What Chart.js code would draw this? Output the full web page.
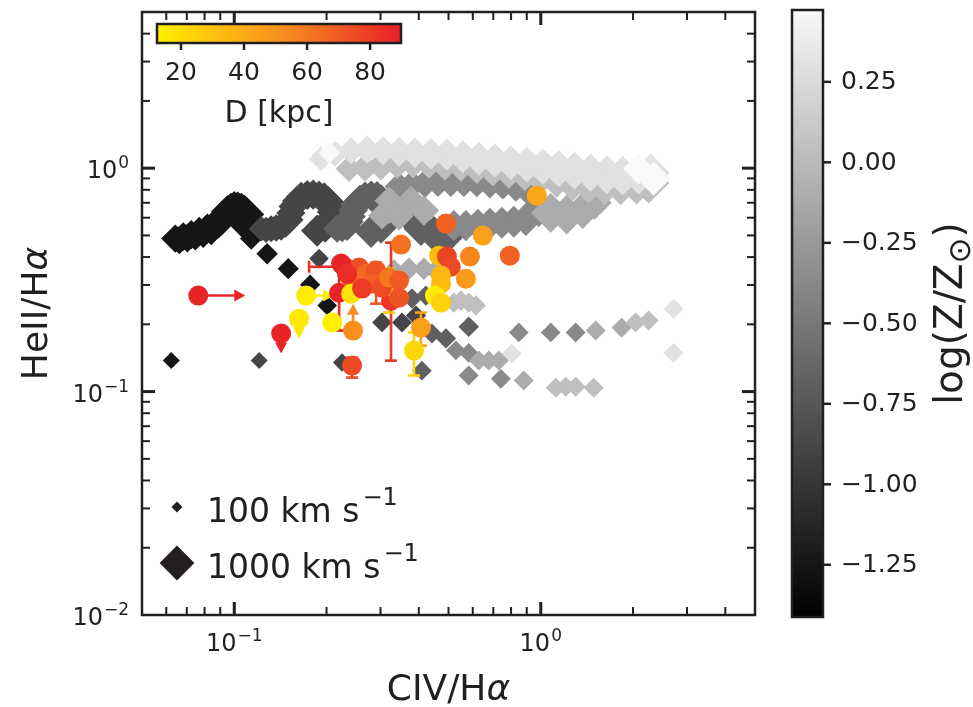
<!DOCTYPE html>
<html>
<head>
<meta charset="utf-8">
<script src="https://cdn.jsdelivr.net/npm/chart.js@4.4.1/dist/chart.umd.min.js"></script>
<style>
  html, body { margin: 0; background: #fff; }
  canvas { display: block; }
</style>
</head>
<body>
<canvas id="chart" width="973" height="707"></canvas>
<script>
/* ── Shock model grids: [CIV/Hα, HeII/Hα, v_shock (km/s)] ── */
const Z_VALUES = [-1.25, -0.9, -0.7, -0.4, -0.15, 0.0, 0.25, 0.42];

const modelZm125 = [
  [0.0623,0.1377,120],[0.201,0.243,160],[0.1768,0.301,170],[0.150,0.355,185],[0.128,0.414,190],[0.1136,0.484,210],
  [0.0642,0.484,330],[0.0662,0.476,330],[0.0682,0.494,340],[0.0703,0.486,340],[0.0724,0.504,350],[0.0746,0.497,350],
  [0.0769,0.520,360],[0.0792,0.512,370],[0.0817,0.536,380],[0.0841,0.530,390],[0.0867,0.559,400],[0.0888,0.570,410],
  [0.0907,0.588,420],[0.0928,0.612,430],[0.0949,0.639,440],[0.0975,0.655,450],[0.100,0.666,460],[0.1027,0.662,465],
  [0.1054,0.652,470],[0.1080,0.638,475],[0.1102,0.620,480],[0.107,0.576,480]
];
const modelZm090 = [
  [0.1206,0.1377,120],[0.1891,0.394,160],[0.2248,0.135,140],[0.3034,0.204,160],[0.3526,0.204,165],[0.3915,0.219,170],
  [0.1225,0.536,270],[0.1270,0.530,285],[0.1319,0.536,300],[0.1370,0.540,315],[0.1422,0.547,330],[0.1470,0.565,335],
  [0.1511,0.588,340],[0.1530,0.630,350],[0.1557,0.673,360],[0.1600,0.712,365],[0.1653,0.746,370],[0.1730,0.758,375],
  [0.1809,0.761,380],[0.1890,0.752,385],[0.1965,0.738,390],[0.2030,0.708,395],[0.207,0.673,400],[0.2090,0.636,405],
  [0.2086,0.600,410],[0.2040,0.570,415],[0.1979,0.547,420],[0.1864,0.525,430]
];
const modelZm070 = [
  [0.4095,0.124,160],[0.4416,0.182,165],[0.4905,0.173,170],[0.582,0.195,175],[0.380,0.261,170],[0.422,0.269,170],
  [0.2165,0.536,330],[0.2250,0.540,335],[0.2334,0.547,340],[0.2370,0.576,350],[0.2405,0.607,360],[0.2440,0.648,365],
  [0.2478,0.687,370],[0.2570,0.722,375],[0.2671,0.746,380],[0.2795,0.752,390],[0.2922,0.746,400],[0.3020,0.720,405],
  [0.3103,0.687,410],[0.3140,0.646,415],[0.315,0.607,420],[0.3090,0.570,425],[0.3011,0.542,430],[0.2794,0.520,440],
  [0.332,0.716,450],[0.3579,0.680,460],[0.3773,0.600,480],[0.4065,0.536,500],[0.4482,0.509,520],[0.4905,0.494,540]
];
const modelZm040 = [
  [0.848,0.184,160],[1.078,0.184,160],[1.30,0.184,165],[0.5285,0.153,160],[0.582,0.149,160],[0.582,0.118,165],[0.7409,0.114,165],
  [0.5206,0.553,400],[0.5697,0.553,400],[0.6234,0.559,410],[0.6822,0.565,410],[0.7464,0.570,420],[0.8167,0.576,420],
  [0.8936,0.588,440],[0.985,0.659,560],
  [0.9138,0.793,400],[0.8292,0.827,380],[0.7519,0.844,370],[0.6822,0.852,360],[0.6188,0.861,350],[0.5614,0.861,340],
  [0.5089,0.861,340],[0.4619,0.861,340],[0.4189,0.852,340],[0.380,0.844,340],[0.3448,0.827,340]
];
const modelZm015 = [
  [0.332,0.348,210],[0.3715,0.355,210],[0.4157,0.355,210],[0.455,0.348,210],[1.511,0.1875,165],[1.836,0.193,165],
  [0.628,0.1377,165],[0.677,0.1377,165],[0.730,0.1377,165],[0.880,0.112,165],
  [0.3198,0.646,300],[0.3034,0.613,320],[0.3198,0.716,340],[0.3448,0.613,360],[0.3773,0.716,360],[0.4157,0.646,380],
  [1.078,0.631,650],[1.215,0.620,650],[1.37,0.646,560],[1.499,0.701,480]
];
const modelZp000 = [
  [2.039,0.204,165],[2.248,0.208,165],[1.119,0.104,165],[1.206,0.105,165],[1.30,0.105,165],[1.488,0.104,165],
  [0.5206,0.250,170],[0.5487,0.255,170],[0.582,0.250,170],[0.6141,0.243,170],
  [0.2369,0.995,300],[0.2671,1.005,330],[0.3011,1.026,360],[0.3397,1.047,380],[0.3829,1.058,400],[0.4317,1.058,430],
  [0.4868,1.047,460],[0.5487,1.037,480],[0.6188,1.016,500],[0.6976,0.995,520],[0.787,0.975,540],[0.8869,0.955,560],
  [1.0,0.925,580],[1.127,0.898,600],[1.271,0.870,620],[1.433,0.852,650],[1.616,0.844,680],[1.822,0.844,700],
  [2.054,0.852,720],[2.248,0.861,720]
];
const modelZp025 = [
  [0.8042,0.148,165],[2.712,0.235,165],[2.712,0.149,165],
  [0.192,1.103,250],[0.2133,1.161,280],[0.2405,1.197,300],[0.2712,1.210,330],[0.3057,1.197,350],[0.3448,1.185,370],
  [0.3887,1.173,390],[0.4383,1.161,410],[0.4941,1.149,430],[0.5571,1.126,450],[0.628,1.103,470],[0.7083,1.081,490],
  [0.7985,1.058,510],[0.9004,1.037,530],[1.015,1.016,550],[1.145,0.995,570],[1.29,0.975,590],[1.455,0.955,610],
  [1.641,0.935,630],[1.85,0.925,650],[2.086,0.935,650],[2.282,0.955,600]
];
const modelZp042 = [[0.204,1.173,200],[2.086,0.995,400],[2.334,0.898,480]];

const MODEL_TRACKS = [modelZm125, modelZm090, modelZm070, modelZm040, modelZm015, modelZp000, modelZp025, modelZp042];

/* ── Observed regions ───────────────────────────────────── */
const obsX = [0.0763,0.1715,0.1627,0.1422,0.2282,0.2198,0.3247,0.2423,0.2441,0.2086,0.3858,0.4065,0.3198,0.2902,
              0.2231,0.2423,0.2554,0.2692,0.2902,0.2815,0.3034,0.3198,0.3448,0.2405,0.3448,0.2612,0.2334,
              0.350,0.4905,0.6472,0.7925,0.9705,0.4655,0.4941,0.5089,0.5872,0.5697,0.4725,0.4725,0.4516,0.4725];
const obsY = [0.269,0.269,0.212,0.182,0.362,0.277,0.255,0.1307,0.1875,0.2036,0.1526,0.1934,0.298,0.314,
              0.374,0.314,0.359,0.337,0.348,0.304,0.292,0.324,0.314,0.274,0.263,0.289,0.337,
              0.455,0.565,0.499,0.406,0.753,0.406,0.402,0.362,0.402,0.320,0.331,0.304,0.269,0.250];
const obsD = [88,14,15,88,85,88,82,76,52,12,22,45,28,72,
              88,70,75,65,72,68,75,60,70,18,72,80,85,
              62,68,45,68,42,32,78,76,55,48,35,33,14,24];
// [index, xlo, xhi, ylo, yhi]
const obsErr = [
  [4, 0.1755, 0.2858, null, null],
  [5, null, null, 0.1875, 0.3777],
  [6, null, null, 0.1376, 0.4642],
  [7, null, null, 0.1155, 0.1419],
  [10, null, null, 0.118, 0.1837],
  [11, null, null, 0.1606, 0.2257],
  [12, null, null, 0.2257, 0.355],
  [13, null, null, 0.2475, 0.3777]
];
// [index, direction, arrow tip value]
const obsLim = [[0, "right", 0.1086], [1, "right", 0.2117], [2, "down", 0.1726], [3, "down", 0.148], [8, "up", 0.2475], [23, "up", 0.3936]];

/* ── Axes / colour bars ─────────────────────────────────── */
const X_RANGE = [0.05, 5];
const Y_RANGE = [0.01, 5];
const X_TICKS = [0.1, 1];
const X_TICK_EXP = ["−1", "0"];
const Y_TICKS = [0.01, 0.1, 1];
const Y_TICK_EXP = ["−2", "−1", "0"];
const Z_MIN = -1.406, Z_MAX = 0.467;
const CB_TICKS = [-1.25, -1.0, -0.75, -0.5, -0.25, 0.0, 0.25];
const CB_LABELS = ["−1.25", "−1.00", "−0.75", "−0.50", "−0.25", "0.00", "0.25"];
const D_MIN = 12.4, D_MAX = 89.8;
const D_TICKS = [20, 40, 60, 80];
const D_STOPS = [[255,240,0],[253,190,16],[247,146,29],[240,90,36],[232,30,38]];
const LEGEND_V = [100, 1000];
const LEGEND_TXT = ["100 km s", "1000 km s"];

const INK  = "#231f20";
const FONT = '"DejaVu Sans", sans-serif';

/* ── Helpers ────────────────────────────────────────────── */
// half-diagonal of a diamond marker, in px
const vRadius = v => 5.5 * Math.sqrt(v / 100);

function zGray(z) {
  const g = Math.round(255 * (z - Z_MIN) / (Z_MAX - Z_MIN));
  return `rgb(${g},${g},${g + 2})`;
}

function dColor(d) {
  const t = Math.min(1, Math.max(0, (d - D_MIN) / (D_MAX - D_MIN))) * (D_STOPS.length - 1);
  const i = Math.min(Math.floor(t), D_STOPS.length - 2);
  const f = t - i;
  const c = D_STOPS[i].map((v, k) => Math.round(v + (D_STOPS[i + 1][k] - v) * f));
  return `rgb(${c})`;
}

function line(ctx, x1, y1, x2, y2) {
  ctx.beginPath(); ctx.moveTo(x1, y1); ctx.lineTo(x2, y2); ctx.stroke();
}

function drawPow(ctx, x, y, exp, size, align) {
  const baseFont = `${size}px ${FONT}`;
  const expFont  = `${Math.round(size * 0.7)}px ${FONT}`;
  ctx.font = baseFont; const wb = ctx.measureText("10").width;
  ctx.font = expFont;  const we = ctx.measureText(exp).width;
  const w = wb + we + 1;
  const x0 = align === "right" ? x - w : x - w / 2;
  ctx.textAlign = "left"; ctx.textBaseline = "alphabetic";
  ctx.font = baseFont; ctx.fillText("10", x0, y);
  ctx.font = expFont;  ctx.fillText(exp, x0 + wb + 1, y - size * 0.42);
}

// text pieces: [string, italic?, scale, baseline shift]
function drawRich(ctx, parts, size, cx, baseline) {
  const fontOf = p => `${p[1] ? "italic " : ""}${Math.round(size * (p[2] || 1))}px ${FONT}`;
  let w = 0;
  parts.forEach(p => { ctx.font = fontOf(p); w += ctx.measureText(p[0]).width; });
  let x = cx - w / 2;
  ctx.textAlign = "left"; ctx.textBaseline = "alphabetic";
  parts.forEach(p => {
    ctx.font = fontOf(p);
    ctx.fillText(p[0], x, baseline + (p[3] || 0) * size);
    x += ctx.measureText(p[0]).width;
  });
}

function diamond(ctx, x, y, r) {
  ctx.beginPath();
  ctx.moveTo(x - r, y); ctx.lineTo(x, y - r); ctx.lineTo(x + r, y); ctx.lineTo(x, y + r);
  ctx.closePath(); ctx.fill();
}

function logTicks(min, max) {
  const out = [];
  for (let e = Math.floor(Math.log10(min)); e <= Math.ceil(Math.log10(max)); e++) {
    for (let m = 1; m < 10; m++) {
      const v = m * Math.pow(10, e);
      if (v > min * 1.001 && v < max * 0.999) out.push({ v, major: m === 1 });
    }
  }
  return out;
}

/* ── Error bars and limit arrows (under the circles) ────── */
const errorBars = {
  id: "errorBars",
  beforeDatasetDraw(chart, args) {
    if (chart.data.datasets[args.index].label !== "obs") return;
    const { ctx, scales: { x, y } } = chart;
    ctx.save();
    ctx.lineWidth = 2.6;
    obsErr.forEach(([i, xlo, xhi, ylo, yhi]) => {
      const c = dColor(obsD[i]);
      ctx.strokeStyle = c;
      const px = x.getPixelForValue(obsX[i]), py = y.getPixelForValue(obsY[i]);
      if (xlo != null) {
        const a = x.getPixelForValue(xlo), b = x.getPixelForValue(xhi);
        line(ctx, a, py, b, py); line(ctx, a, py - 6, a, py + 6); line(ctx, b, py - 6, b, py + 6);
      }
      if (ylo != null) {
        const a = y.getPixelForValue(ylo), b = y.getPixelForValue(yhi);
        line(ctx, px, a, px, b); line(ctx, px - 6, a, px + 6, a); line(ctx, px - 6, b, px + 6, b);
      }
    });
    obsLim.forEach(([i, dir, tip]) => {
      const c = dColor(obsD[i]);
      ctx.strokeStyle = c; ctx.fillStyle = c;
      const px = x.getPixelForValue(obsX[i]), py = y.getPixelForValue(obsY[i]);
      if (dir === "right") {
        const t = x.getPixelForValue(tip);
        line(ctx, px, py, t - 8, py);
        ctx.beginPath(); ctx.moveTo(t, py); ctx.lineTo(t - 11, py - 6); ctx.lineTo(t - 11, py + 6);
      } else {
        const t = y.getPixelForValue(tip);
        const s = dir === "down" ? 1 : -1;
        line(ctx, px, py, px, t - 8 * s);
        ctx.beginPath(); ctx.moveTo(px, t); ctx.lineTo(px - 6, t - 11 * s); ctx.lineTo(px + 6, t - 11 * s);
      }
      ctx.closePath(); ctx.fill();
    });
    ctx.restore();
  }
};

/* ── Frame, ticks, labels, colour bars, size legend ─────── */
const decor = {
  id: "decor",
  afterDatasetsDraw(chart) {
    const { ctx, chartArea: a, scales: { x, y, z } } = chart;
    ctx.save();
    ctx.strokeStyle = INK; ctx.fillStyle = INK;

    // inward ticks on all four sides
    logTicks(X_RANGE[0], X_RANGE[1]).forEach(t => {
      const px = x.getPixelForValue(t.v), len = t.major ? 13 : 8;
      ctx.lineWidth = t.major ? 3 : 2;
      line(ctx, px, a.bottom, px, a.bottom - len);
      line(ctx, px, a.top, px, a.top + len);
    });
    logTicks(Y_RANGE[0], Y_RANGE[1]).forEach(t => {
      const py = y.getPixelForValue(t.v), len = t.major ? 13 : 8;
      ctx.lineWidth = t.major ? 3 : 2;
      line(ctx, a.left, py, a.left + len, py);
      line(ctx, a.right, py, a.right - len, py);
    });
    ctx.lineWidth = 2.5;
    ctx.strokeRect(a.left, a.top, a.right - a.left, a.bottom - a.top);

    // tick labels
    X_TICKS.forEach((v, i) => drawPow(ctx, x.getPixelForValue(v), a.bottom + 36, X_TICK_EXP[i], 24, "center"));
    Y_TICKS.forEach((v, i) => drawPow(ctx, a.left - 13, y.getPixelForValue(v) + 10, Y_TICK_EXP[i], 24, "right"));

    // axis titles
    drawRich(ctx, [["CIV/H"], ["α", true]], 36, (a.left + a.right) / 2, a.bottom + 85);
    ctx.save();
    ctx.translate(47, (a.top + a.bottom) / 2);
    ctx.rotate(-Math.PI / 2);
    drawRich(ctx, [["HeII/H"], ["α", true]], 36, 0, 0);
    ctx.restore();

    // metallicity colour bar
    const cbL = a.right + 37, cbW = 31, cbT = a.top - 2, cbB = a.bottom + 2;
    const g = ctx.createLinearGradient(0, cbB, 0, cbT);
    g.addColorStop(0, "#000"); g.addColorStop(1, "#f8f8f8");
    ctx.fillStyle = g; ctx.fillRect(cbL, cbT, cbW, cbB - cbT);
    ctx.lineWidth = 2.5; ctx.strokeRect(cbL, cbT, cbW, cbB - cbT);
    ctx.fillStyle = INK;
    ctx.font = `25px ${FONT}`; ctx.textAlign = "left"; ctx.textBaseline = "middle";
    CB_TICKS.forEach((v, i) => {
      const py = z.getPixelForValue(v);
      ctx.lineWidth = 2.5;
      line(ctx, cbL + cbW, py, cbL + cbW + 8, py);
      ctx.fillText(CB_LABELS[i], cbL + cbW + 18, py + 1);
    });
    ctx.save();
    ctx.translate(a.right + 207, (a.top + a.bottom) / 2);
    ctx.rotate(-Math.PI / 2);
    drawRich(ctx, [["log(Z/Z"], ["⊙", false, 0.8, 0.2], [")"]], 39, 0, 0);
    ctx.restore();

    // distance colour bar (inset)
    const dL = a.left + 15, dT = a.top + 12, dW = 244, dH = 19;
    const dg = ctx.createLinearGradient(dL, 0, dL + dW, 0);
    D_STOPS.forEach((c, i) => dg.addColorStop(i / (D_STOPS.length - 1), `rgb(${c})`));
    ctx.fillStyle = dg; ctx.fillRect(dL, dT, dW, dH);
    ctx.lineWidth = 2.5; ctx.strokeRect(dL, dT, dW, dH);
    ctx.fillStyle = INK;
    ctx.font = `25px ${FONT}`; ctx.textAlign = "center"; ctx.textBaseline = "alphabetic";
    D_TICKS.forEach(d => {
      const px = dL + dW * (d - D_MIN) / (D_MAX - D_MIN);
      ctx.lineWidth = 2.5;
      line(ctx, px, dT + dH, px, dT + dH + 7);
      ctx.fillText(String(d), px, dT + dH + 37);
    });
    ctx.font = `30px ${FONT}`;
    ctx.fillText("D [kpc]", dL + dW / 2, dT + dH + 79);

    // shock-velocity size legend
    LEGEND_V.forEach((v, i) => {
      const cy = a.bottom - 108 + i * 56;
      diamond(ctx, a.left + 35, cy, vRadius(v));
      ctx.font = `33px ${FONT}`; ctx.textAlign = "left"; ctx.textBaseline = "alphabetic";
      ctx.fillText(LEGEND_TXT[i], a.left + 65, cy + 15);
      const w = ctx.measureText(LEGEND_TXT[i]).width;
      ctx.font = `24px ${FONT}`;
      ctx.fillText("−1", a.left + 65 + w + 3, cy - 2);
    });
    ctx.restore();
  }
};

/* ── Datasets ───────────────────────────────────────────── */
const datasets = [{
  label: "obs",
  order: 0,
  data: obsX.map((v, i) => ({ x: v, y: obsY[i] })),
  pointStyle: "circle",
  pointRadius: 10,
  pointBorderWidth: 0,
  backgroundColor: obsD.map(dColor)
}];

// Chart.js 'rectRot' radius -> half-diagonal is radius / sqrt(2), so scale up
MODEL_TRACKS.forEach((track, k) => {
  datasets.push({
    label: "Z " + Z_VALUES[k],
    order: 20 - k,
    data: track.map(p => ({ x: p[0], y: p[1] })),
    pointStyle: "rectRot",
    pointRadius: track.map(p => vRadius(p[2]) * Math.SQRT2),
    pointBorderWidth: 0,
    backgroundColor: zGray(Z_VALUES[k])
  });
});

new Chart(document.getElementById("chart"), {
  type: "scatter",
  data: { datasets },
  options: {
    responsive: false,
    animation: false,
    events: [],
    layout: { autoPadding: false, padding: { left: 142, right: 218, top: 12, bottom: 92 } },
    plugins: { legend: { display: false }, tooltip: { enabled: false } },
    scales: {
      x: { type: "logarithmic", min: X_RANGE[0], max: X_RANGE[1], display: false },
      y: { type: "logarithmic", min: Y_RANGE[0], max: Y_RANGE[1], display: false },
      z: { type: "linear", axis: "y", position: "right", min: Z_MIN, max: Z_MAX, display: false }
    }
  },
  plugins: [errorBars, decor]
});
</script>
</body>
</html>
